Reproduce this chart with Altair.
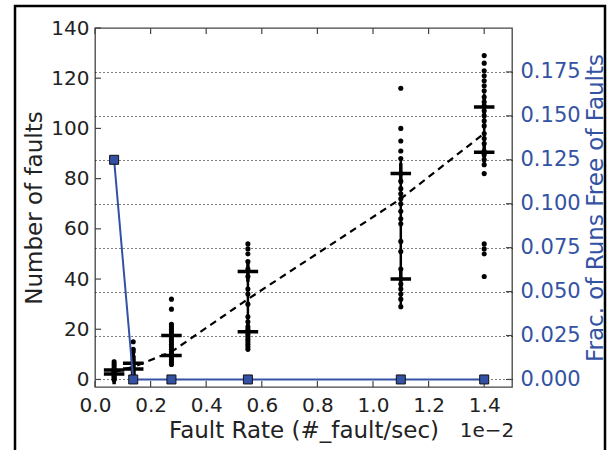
import altair as alt
import pandas as pd

# ---- data ----
rates = [0.06875, 0.1375, 0.275, 0.55, 1.1, 1.4]   # x, in units of 1e-2 faults/sec

faults_c1 = [0, 0, 1, 1, 2, 2, 3, 3, 3, 4, 4, 5, 6, 7]
faults_c2 = [0, 1, 2, 3, 4, 5, 6, 7, 8, 9, 11, 12, 15]
faults_c3 = [32, 28, 22, 21, 20, 19, 18, 17, 16, 15, 14, 13, 12, 11, 10, 9, 8, 7, 6]
faults_c4 = [54, 52, 50, 47, 44, 41, 36, 34, 30, 25, 23, 21, 20, 19, 18, 17, 16, 15, 14, 13, 12]
faults_c5 = [116, 100, 95, 91, 88, 82, 79, 76, 74, 72, 70, 67, 64, 62, 55, 51, 44, 40, 38, 36, 34, 32, 29]
faults_c6 = [129, 126, 123, 121, 119, 117, 115, 112.5, 110.5, 109, 107, 105, 103, 101, 98, 96, 94, 91,
             89.5, 87.5, 85.5, 82, 54, 52, 50, 41]
clusters = [faults_c1, faults_c2, faults_c3, faults_c4, faults_c5, faults_c6]

cross_hi = [3.8, 6.5, 17.5, 43, 82, 108.5]
cross_lo = [2.2, 4.2, 9.5, 19, 40, 90.5]

whisker_rates = [0.55, 1.1, 1.4]
whisker_lo = [12, 29, 86]
whisker_hi = [43, 88, 114]

trend = [3, 5, 11, 32, 72, 98]
frac_free = [0.125, 0, 0, 0, 0, 0]

x_ticks = [0.0, 0.2, 0.4, 0.6, 0.8, 1.0, 1.2, 1.4]
left_ticks = [0, 20, 40, 60, 80, 100, 120, 140]
right_ticks = [0, 0.025, 0.05, 0.075, 0.1, 0.125, 0.15, 0.175]

# ---- tables ----
dots = pd.DataFrame([{"rate": r, "faults": v} for r, c in zip(rates, clusters) for v in c])
crosses = pd.DataFrame({"rate": rates * 2, "faults": cross_hi + cross_lo})
whisk = pd.DataFrame({"rate": whisker_rates, "lo": whisker_lo, "hi": whisker_hi})
trend_df = pd.DataFrame({"rate": rates, "faults": trend})
frac_df = pd.DataFrame({"rate": rates, "frac": frac_free})
xt_df = pd.DataFrame({"rate": x_ticks})
lt_df = pd.DataFrame({"v": left_ticks})
rt_df = pd.DataFrame({"v": right_ticks})
one = pd.DataFrame({"t": ["1e\u22122"]})

W, H = 417, 359
BLUE = "#3452a4"
TXT = "#222222"
FONT = "DejaVu Sans"

xscale = alt.Scale(domain=[0, 1.5], nice=False, zero=False)
yl = alt.Scale(domain=[-3, 140], nice=False, zero=False)
yr = alt.Scale(domain=[-3 / 700, 0.2], nice=False, zero=False)

xaxis = alt.Axis(values=x_ticks, format=".1f", title="Fault Rate (#_fault/sec)", ticks=False,
                 domain=False, grid=False, labelPadding=8, titlePadding=4, labelFlush=False)
X = alt.X("rate:Q", scale=xscale, axis=xaxis)

left_axis = alt.Axis(orient="left", values=left_ticks, format="d", ticks=False, domain=False, grid=False,
                     title="Number of faults", labelPadding=6, titlePadding=4, labelFlush=False)
right_axis = alt.Axis(orient="right", values=right_ticks, format=".3f", ticks=False, domain=False,
                      grid=True, gridColor="black", gridDash=[1, 3], gridWidth=1, gridOpacity=1,
                      labelColor=BLUE, titleColor=BLUE, title="Frac. of Runs Free of Faults",
                      titleAngle=270, titleBaseline="top", labelPadding=8, titlePadding=4,
                      labelFlush=False, labelFontSize=21)

grid_layer = alt.Chart(rt_df).mark_rule(opacity=0).encode(
    y=alt.Y("v:Q", scale=yr, axis=right_axis))

dots_layer = alt.Chart(dots).mark_circle(size=26, color="black", opacity=1).encode(
    x=X, y=alt.Y("faults:Q", scale=yl, axis=left_axis))

whisk_layer = alt.Chart(whisk).mark_rule(color="black", strokeWidth=2.5).encode(
    x=X, y=alt.Y("lo:Q", scale=yl, axis=None), y2="hi:Q")

trend_layer = alt.Chart(trend_df).mark_line(color="black", strokeWidth=2.2, strokeDash=[7, 5]).encode(
    x=X, y=alt.Y("faults:Q", scale=yl, axis=None))

cross_layer = alt.Chart(crosses).mark_point(shape="M-1,0L1,0M0,-1L0,1", size=420, filled=False,
                                            color="black", strokeWidth=3.5, opacity=1).encode(
    x=X, y=alt.Y("faults:Q", scale=yl, axis=None))

lt_layer = alt.Chart(lt_df).mark_rule(color="#444", strokeWidth=1.2).encode(
    y=alt.Y("v:Q", scale=yl, axis=None), x=alt.value(0), x2=alt.value(6))

rt_layer = alt.Chart(rt_df).mark_rule(color="#444", strokeWidth=1.2).encode(
    y=alt.Y("v:Q", scale=yr, axis=None), x=alt.value(W), x2=alt.value(W - 6))

xb_layer = alt.Chart(xt_df).mark_rule(color="#444", strokeWidth=1.2).encode(
    x=X, y=alt.value(H), y2=alt.value(H - 6))
xt_layer = alt.Chart(xt_df).mark_rule(color="#444", strokeWidth=1.2).encode(
    x=X, y=alt.value(0), y2=alt.value(6))

frac_line = alt.Chart(frac_df).mark_line(color=BLUE, strokeWidth=2).encode(
    x=X, y=alt.Y("frac:Q", scale=yr, axis=None))
frac_pts = alt.Chart(frac_df).mark_square(size=81, color=BLUE, stroke="#111", strokeWidth=1,
                                          opacity=1).encode(
    x=X, y=alt.Y("frac:Q", scale=yr, axis=None))

offset_txt = alt.Chart(one).mark_text(font=FONT, fontSize=20, color=TXT, align="center",
                                      baseline="middle").encode(
    x=alt.value(392), y=alt.value(403), text="t:N")

frame = alt.Chart(one).mark_rect(filled=False, stroke="black", strokeWidth=2.5).encode(
    x=alt.value(-80), x2=alt.value(510), y=alt.value(-22), y2=alt.value(440))

chart = alt.layer(
    grid_layer, dots_layer, lt_layer, whisk_layer, trend_layer, cross_layer, rt_layer, xb_layer, xt_layer,
    frac_line, frac_pts, offset_txt, frame
).resolve_scale(y="independent").properties(
    width=W, height=H,
    autosize=alt.AutoSizeParams(type="none"),
    padding={"left": 95, "top": 28, "right": 611 - 95 - W, "bottom": 450 - 28 - H},
).configure_view(stroke="#444", strokeWidth=1.3).configure_axis(
    labelFont=FONT, titleFont=FONT, labelFontSize=20, titleFontSize=23, titleFontWeight="normal",
    labelColor=TXT, titleColor=TXT
)

chart.save("out.html", embed_options={"renderer": "svg", "actions": False})
